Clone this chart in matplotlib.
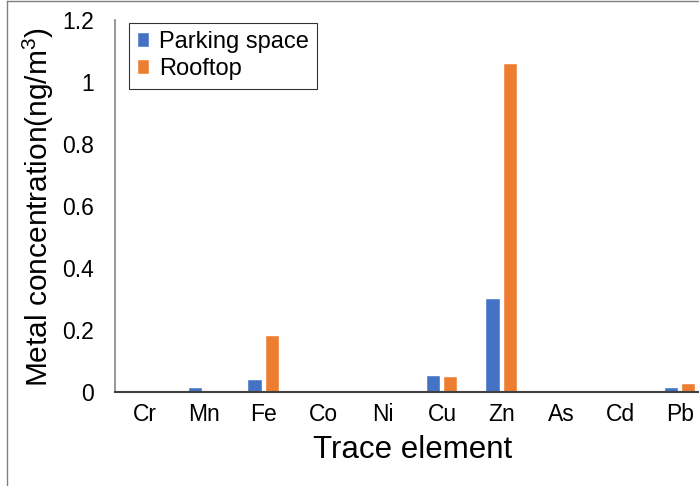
import numpy as np
import matplotlib
matplotlib.use("Agg")
import matplotlib.pyplot as plt
from matplotlib.lines import Line2D

plt.rcParams['font.family'] = ['Liberation Sans', 'DejaVu Sans']
plt.rcParams['mathtext.fontset'] = 'custom'
plt.rcParams['mathtext.rm'] = 'Liberation Sans'
plt.rcParams['mathtext.it'] = 'Liberation Sans:italic'

# trace elements and concentrations (ng/m3)
elements = ["Cr", "Mn", "Fe", "Co", "Ni", "Cu", "Zn", "As", "Cd", "Pb"]
parking = [0.0035, 0.012, 0.040, 0.0005, 0.0015, 0.052, 0.302, 0.0035, 0.0003, 0.012]
rooftop = [0.0035, 0.005, 0.180, 0.002, 0.002, 0.048, 1.058, 0.0035, 0.0003, 0.025]

fig = plt.figure(figsize=(6.99, 4.86), dpi=100)
ax = fig.add_axes([0.1645, 0.193, 0.851, 0.766])

x = np.arange(len(elements))
w = 0.225
ax.bar(x - 0.145, parking, w, color="#4472C4", edgecolor="white", linewidth=0.3, label="Parking space")
ax.bar(x + 0.145, rooftop, w, color="#ED7D31", edgecolor="white", linewidth=0.3, label="Rooftop")

ax.set_xlim(-0.5, 9.5)
ax.set_ylim(0, 1.2)
ax.set_yticks([0, 0.2, 0.4, 0.6, 0.8, 1.0, 1.2])
ax.set_yticklabels(["0", "0.2", "0.4", "0.6", "0.8", "1", "1.2"])
ax.set_xticks(x)
ax.set_xticklabels(elements)
ax.tick_params(axis="both", length=0, labelsize=16.5)
ax.tick_params(axis="x", pad=8)
ax.tick_params(axis="y", pad=15)

for s in ["top", "right"]:
    ax.spines[s].set_visible(False)
ax.spines["left"].set_color("#868686")
ax.spines["left"].set_linewidth(1.2)
ax.spines["bottom"].set_color("#404040")
ax.spines["bottom"].set_linewidth(1.5)

ax.set_xlabel("Trace element", fontsize=22.5, labelpad=6)
fig.text(0.055, 0.575, "Metal concentration(ng/m$^{3}$)", fontsize=21.5,
         rotation=90, ha="center", va="center")

leg = ax.legend(loc="upper left", bbox_to_anchor=(0.024, 0.992), fontsize=17,
                frameon=True, fancybox=False, handlelength=0.5, handleheight=0.5,
                handletextpad=0.4, borderpad=0.35, labelspacing=0.22, borderaxespad=0.0)
leg.get_frame().set_edgecolor("black")
leg.get_frame().set_linewidth(0.8)

# outer chart border (top and left visible)
fig.add_artist(Line2D([0.01, 0.01], [0, 0.998], color="#808080", lw=1.0))
fig.add_artist(Line2D([0.01, 1.0], [0.998, 0.998], color="#808080", lw=1.0))

fig.savefig("out.png", dpi=100)
